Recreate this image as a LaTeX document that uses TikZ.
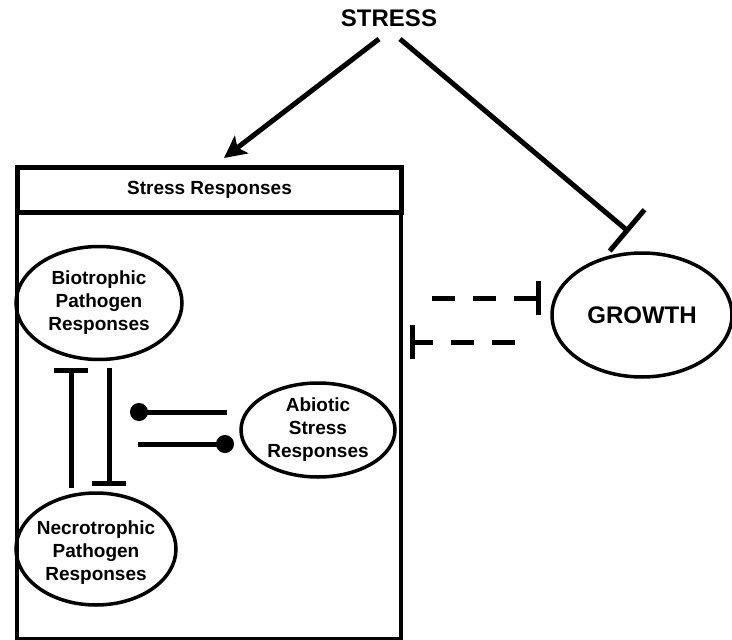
\documentclass[tikz,border=0pt]{standalone}
\usepackage{fontspec}
\setmainfont{Liberation Sans}
\usetikzlibrary{shapes.geometric,arrows.meta}
\begin{document}
\begin{tikzpicture}[x=1pt,y=-1pt,
  conn/.style={line width=5pt},
  ell/.style={draw,ellipse,line width=3.5pt,inner sep=0pt},
  etext/.style={align=center,inner sep=0pt,font=\bfseries\fontsize{19}{23}\selectfont},
  big/.style={font=\bfseries\fontsize{24}{28}\selectfont},
  inhib/.style={conn,-{Bar[width=34pt]}},
  dotend/.style={conn,-{Circle[length=18pt]}},
  dash23/.style={dash pattern=on 23pt off 18pt}
]
\useasboundingbox (0,0) rectangle (732,640);

% top stress label
\node[big,inner sep=0pt] (stress) at (389,18) {STRESS};

% stress responses box
\node[draw,line width=3.5pt,minimum width=384pt,minimum height=472pt,inner sep=0pt,anchor=north west] (box) at (15,165) {};
\node[draw,line width=5pt,minimum width=384pt,minimum height=45pt,inner sep=0pt,anchor=north west,
  font=\bfseries\fontsize{19}{23}\selectfont] (hdr) at (15,165) {Stress Responses};

% ellipses
\node[ell,minimum width=166pt,minimum height=113pt,
  label={[etext]center:Biotrophic\\Pathogen\\Responses}] (bio) at (99,303) {};
\node[ell,minimum width=154pt,minimum height=94pt,
  label={[etext]center:Abiotic\\Stress\\Responses}] (abio) at (318,430) {};
\node[ell,minimum width=160pt,minimum height=112pt,
  label={[etext,yshift=-4pt]center:Necrotrophic\\Pathogen\\Responses}] (necro) at (96,549) {};
\node[ell,minimum width=180pt,minimum height=124pt,
  label={[big,inner sep=0pt]center:GROWTH}] (growth) at (642,315) {};

% connector end points
\coordinate (s1) at (379,39);
\coordinate (s2) at (400,39);
\coordinate (boxin) at (224,158);
\coordinate (grin) at (629,232);
\coordinate (ntop) at (71,488);
\coordinate (bbar) at (71,368);
\coordinate (bbot) at (109,368);
\coordinate (nbar) at (109,486);
\coordinate (aout1) at (227,412);
\coordinate (adot1) at (130,412);
\coordinate (lin2) at (138,444);
\coordinate (adot2) at (234,444);
\coordinate (gout) at (515,342);
\coordinate (boxbar) at (410,342);
\coordinate (boxout) at (432,298);
\coordinate (grbar) at (541,298);

% connectors
\draw[conn,-{Stealth[length=22pt,width=22pt,inset=5pt]}] (s1) -- (boxin);
\draw[conn,-{Bar[width=54pt]}] (s2) -- (grin);
\draw[inhib] (ntop) -- (bbar);
\draw[inhib] (bbot) -- (nbar);
\draw[dotend] (aout1) -- (adot1);
\draw[dotend] (lin2) -- (adot2);
\draw[inhib,dash23] (gout) -- (boxbar);
\draw[inhib,dash23] (boxout) -- (grbar);
\end{tikzpicture}
\end{document}
